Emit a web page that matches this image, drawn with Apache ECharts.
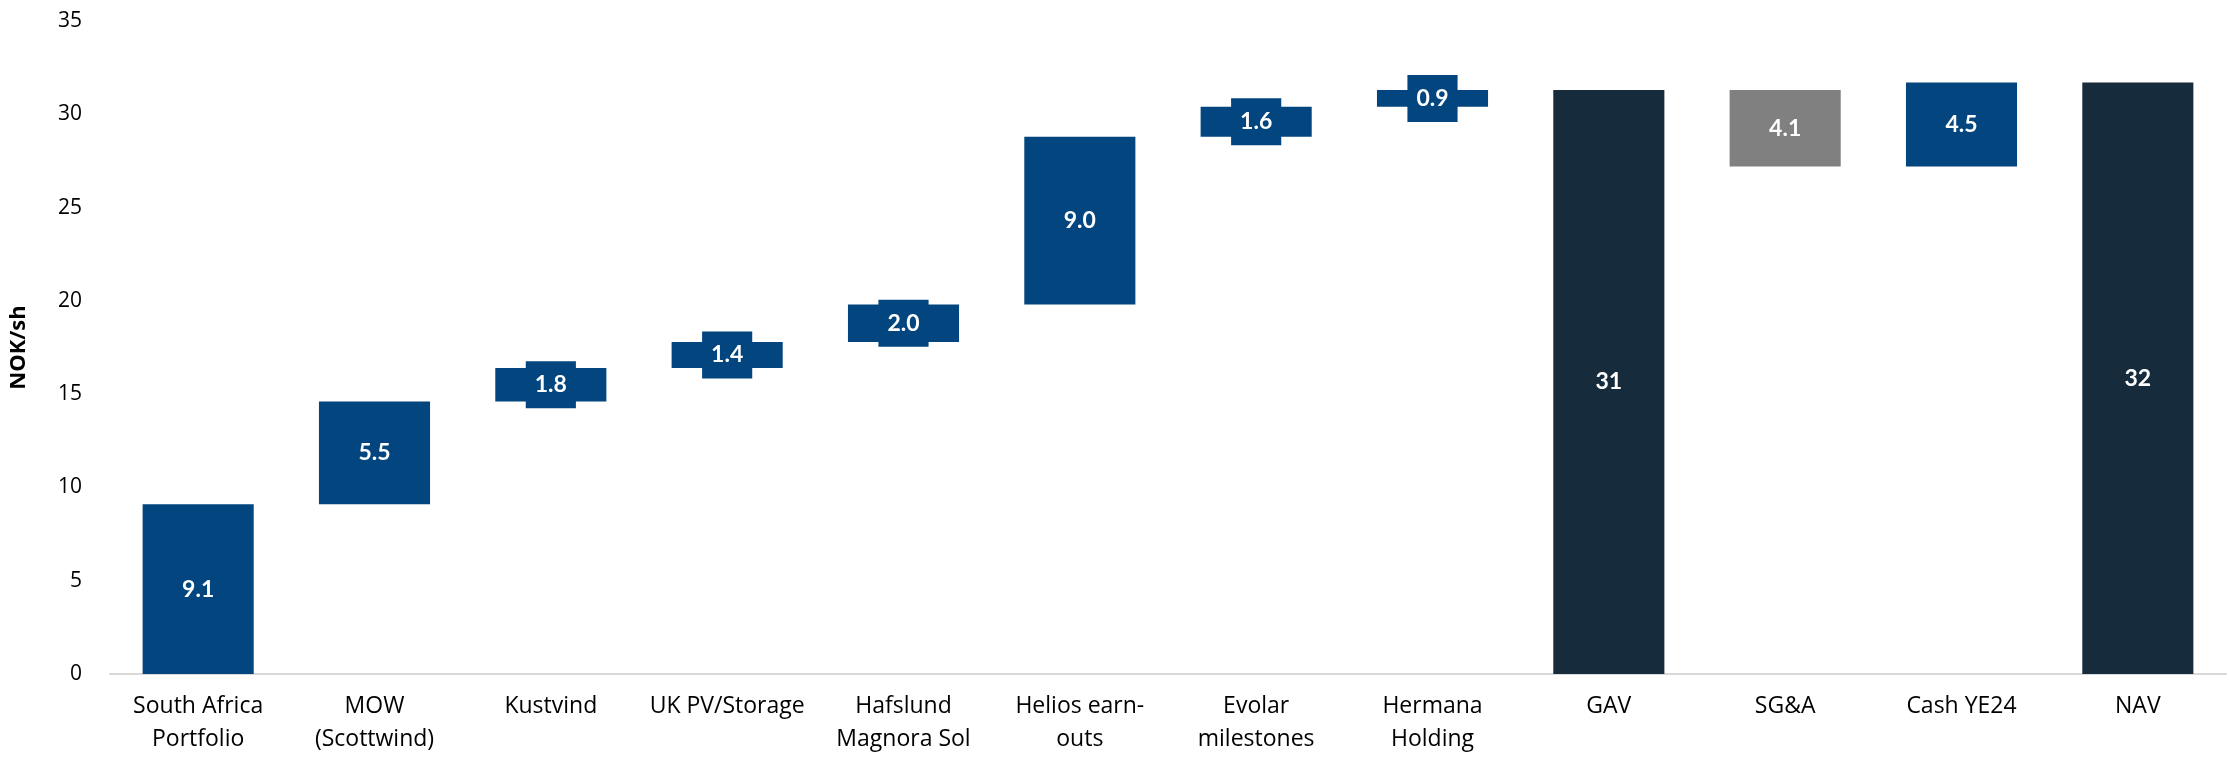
<!DOCTYPE html>
<html>
<head>
<meta charset="utf-8">
<script src="https://cdn.jsdelivr.net/npm/echarts/dist/echarts.min.js"></script>
<style>
  html, body { margin: 0; padding: 0; background: #fff; }
  #chart { width: 2229px; height: 758px; }
</style>
</head>
<body>
<div id="chart"></div>
<script>
// categories along the x axis
const categories = [
  'South Africa\nPortfolio', 'MOW\n(Scottwind)', 'Kustvind', 'UK PV/Storage',
  'Hafslund\nMagnora Sol', 'Helios earn-\nouts', 'Evolar\nmilestones', 'Hermana\nHolding',
  'GAV', 'SG&A', 'Cash YE24', 'NAV'
]
// step values (NOK/sh); totals hold the running level
const steps = [9.1, 5.5, 1.8, 1.4, 2.0, 9.0, 1.6, 0.9, 31.3, -4.1, 4.5, 31.7]
// kind of each bar: up = increase, down = decrease, total = full bar from zero
const kinds = ['up', 'up', 'up', 'up', 'up', 'up', 'up', 'up', 'total', 'down', 'up', 'total']
// y axis ticks
const yMin = 0
const yMax = 35
const yStep = 5

const colors = { up: '#03457f', down: '#808080', total: '#162c3c' }
const font = 'Open Sans'

// build the invisible base and the visible part of each bar
const base = []
const visible = []
let level = 0
steps.forEach((v, i) => {
  const kind = kinds[i]
  let b, h
  if (kind === 'total') {
    b = 0
    h = v
    level = v
  } else if (kind === 'down') {
    level = level + v
    b = level
    h = -v
  } else {
    b = level
    h = v
    level = level + v
  }
  base.push(+b.toFixed(2))
  visible.push({
    value: +h.toFixed(2),
    itemStyle: { color: colors[kind] },
    label: {
      backgroundColor: colors[kind],
      formatter: kind === 'total' ? Math.round(h).toString() : Math.abs(v).toFixed(1)
    }
  })
})

const chart = echarts.init(document.getElementById('chart'))
chart.setOption({
  animation: false,
  grid: { left: 109, right: 3, top: 21, bottom: 84 },
  xAxis: {
    type: 'category',
    data: categories,
    axisLine: { lineStyle: { color: '#d9d9d9', width: 2 } },
    axisTick: { show: false },
    axisLabel: {
      color: '#000',
      fontFamily: font,
      fontSize: 23,
      lineHeight: 33,
      margin: 16,
      interval: 0
    }
  },
  yAxis: {
    type: 'value',
    min: yMin,
    max: yMax,
    interval: yStep,
    name: 'NOK/sh',
    nameLocation: 'middle',
    nameRotate: 90,
    nameGap: 80,
    nameTextStyle: { color: '#000', fontFamily: font, fontSize: 22, fontWeight: 'bold' },
    axisLine: { show: false },
    axisTick: { show: false },
    splitLine: { show: false },
    axisLabel: { color: '#000', fontFamily: font, fontSize: 21, margin: 28 }
  },
  series: [
    {
      type: 'bar',
      stack: 'wf',
      data: base,
      itemStyle: { color: 'transparent' },
      barCategoryGap: '37%',
      silent: true
    },
    {
      type: 'bar',
      stack: 'wf',
      data: visible,
      barCategoryGap: '37%',
      label: {
        show: true,
        position: 'inside',
        color: '#fff',
        fontFamily: 'Lato',
        fontSize: 23,
        fontWeight: 'bold',
        lineHeight: 23,
        padding: [12, 9, 12, 9]
      }
    }
  ]
})
</script>
</body>
</html>
